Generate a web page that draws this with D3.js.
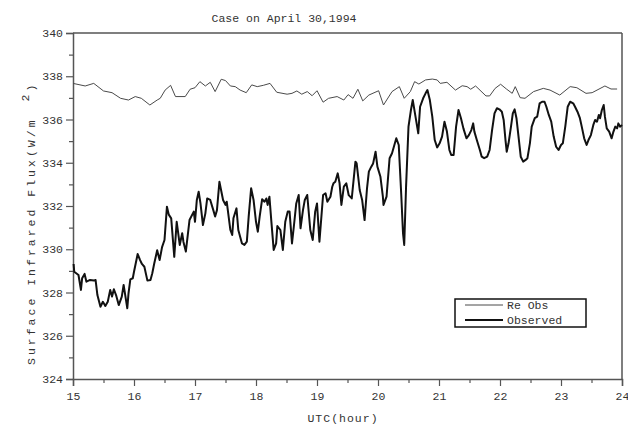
<!DOCTYPE html>
<html>
<head>
<meta charset="utf-8">
<script src="https://cdn.jsdelivr.net/npm/d3@7/dist/d3.min.js"></script>
<style>
  html, body { margin: 0; padding: 0; background: #fff; }
  svg { display: block; }
  text { font-family: "Liberation Mono", "DejaVu Sans Mono", monospace; fill: #333; }
</style>
</head>
<body>
<svg id="chart" width="628" height="425"></svg>
<script>
// Surface infrared flux, UTC hour vs W/m^2
const title = "Case on April 30,1994";
const xLabel = "UTC(hour)";
const yLabelMain = "Surface Infrared Flux(W/m";
const yLabelSup = "2";
const yLabelEnd = ")";
const seriesNames = ["Re Obs", "Observed"];

const xTicks = [15, 16, 17, 18, 19, 20, 21, 22, 23, 24];
const yTicks = [324, 326, 328, 330, 332, 334, 336, 338, 340];

// Re Obs: hour, flux
const reObsHour = [15.00,15.20,15.34,15.50,15.64,15.78,15.91,16.02,16.12,16.26,16.38,16.43,16.51,16.60,16.68,16.84,16.92,17.00,17.08,17.17,17.25,17.33,17.43,17.50,17.58,17.66,17.74,17.84,17.93,18.02,18.12,18.23,18.34,18.51,18.59,18.67,18.75,18.84,18.92,19.00,19.10,19.19,19.33,19.44,19.51,19.59,19.67,19.75,19.85,20.01,20.09,20.23,20.35,20.43,20.53,20.60,20.67,20.78,20.89,20.97,21.02,21.13,21.27,21.38,21.46,21.52,21.60,21.77,21.83,21.92,22.01,22.11,22.20,22.25,22.33,22.41,22.55,22.71,22.82,22.98,23.15,23.26,23.41,23.51,23.72,23.82,23.92];
const reObsFlux = [337.67,337.55,337.67,337.32,337.24,336.98,336.90,337.06,336.98,336.67,336.90,336.98,337.36,337.58,337.06,337.06,337.40,337.47,337.75,337.55,337.72,337.29,337.86,337.80,337.55,337.52,337.36,337.24,337.60,337.52,337.58,337.67,337.26,337.17,337.21,337.32,337.17,337.29,337.10,337.33,336.80,336.98,337.06,336.90,337.15,336.98,337.40,336.86,337.13,337.33,336.67,337.29,337.52,336.98,337.29,337.75,337.64,337.83,337.87,337.83,337.67,337.72,337.36,337.56,337.52,337.40,337.55,337.09,337.09,337.44,337.63,337.40,337.21,337.52,337.01,336.98,337.29,337.44,337.36,337.13,337.52,337.47,337.21,337.24,337.55,337.41,337.41];

// Observed: hour, flux
const obsHour = [15.01,15.02,15.09,15.13,15.15,15.19,15.22,15.28,15.34,15.37,15.40,15.45,15.49,15.53,15.57,15.61,15.64,15.67,15.71,15.75,15.80,15.83,15.86,15.89,15.91,15.94,15.98,16.00,16.06,16.10,16.13,16.17,16.22,16.27,16.30,16.33,16.38,16.42,16.46,16.50,16.54,16.57,16.61,16.66,16.70,16.75,16.79,16.81,16.85,16.91,16.98,17.00,17.03,17.06,17.09,17.13,17.17,17.20,17.25,17.30,17.33,17.36,17.40,17.46,17.50,17.52,17.58,17.61,17.63,17.68,17.71,17.77,17.81,17.85,17.88,17.92,17.96,18.00,18.03,18.06,18.10,18.14,18.17,18.19,18.22,18.25,18.29,18.33,18.35,18.40,18.44,18.48,18.52,18.55,18.59,18.62,18.66,18.70,18.73,18.77,18.80,18.84,18.89,18.93,18.97,19.00,19.04,19.10,19.14,19.17,19.22,19.25,19.27,19.30,19.34,19.37,19.40,19.44,19.48,19.52,19.57,19.63,19.65,19.70,19.74,19.78,19.82,19.85,19.89,19.92,19.96,19.99,20.04,20.08,20.09,20.14,20.19,20.23,20.30,20.34,20.38,20.41,20.43,20.46,20.50,20.54,20.57,20.61,20.66,20.69,20.74,20.78,20.81,20.85,20.89,20.93,20.97,21.01,21.05,21.09,21.13,21.17,21.20,21.24,21.28,21.32,21.36,21.40,21.45,21.49,21.53,21.56,21.58,21.62,21.67,21.70,21.74,21.79,21.83,21.87,21.91,21.95,21.99,22.03,22.06,22.09,22.11,22.14,22.18,22.21,22.24,22.27,22.31,22.34,22.38,22.42,22.45,22.49,22.52,22.57,22.61,22.65,22.69,22.73,22.76,22.80,22.84,22.88,22.92,22.96,23.00,23.03,23.07,23.11,23.15,23.20,23.23,23.27,23.31,23.34,23.38,23.42,23.45,23.49,23.53,23.56,23.59,23.62,23.64,23.67,23.70,23.72,23.75,23.79,23.83,23.86,23.89,23.92,23.94,23.97,24.00];
const obsFlux = [329.32,328.96,328.81,328.12,328.66,328.86,328.50,328.58,328.55,328.58,327.88,327.34,327.57,327.38,327.57,328.12,327.81,328.15,327.84,327.42,327.81,328.35,327.81,327.27,327.96,328.61,328.66,328.96,329.78,329.50,329.32,329.19,328.55,328.58,328.89,329.32,329.95,329.50,330.10,330.43,331.97,331.60,331.43,329.65,331.27,330.20,330.74,330.35,329.89,331.35,331.74,331.27,332.28,332.66,332.12,331.12,331.66,332.35,332.28,331.81,331.51,331.81,333.12,332.28,332.05,332.20,330.89,330.66,331.43,331.89,330.89,330.27,330.20,330.35,331.51,332.82,332.28,331.27,330.81,331.51,332.31,332.20,332.35,332.05,332.43,331.35,329.97,330.27,331.07,330.89,329.97,331.27,331.74,331.74,330.27,331.04,332.12,332.51,330.97,331.81,332.28,332.51,330.89,330.43,331.74,332.12,330.35,332.51,332.59,332.20,332.43,332.89,333.05,333.12,333.51,333.05,332.05,332.90,333.05,332.50,332.35,334.05,333.97,332.74,332.28,331.35,332.82,333.59,333.82,333.97,334.51,333.82,333.35,332.43,332.05,332.43,334.21,334.44,335.13,334.82,332.59,330.74,330.20,332.89,335.67,336.44,336.90,336.21,335.36,336.59,336.98,337.21,337.36,336.90,336.13,335.05,334.71,334.90,335.21,335.90,335.44,334.59,334.36,334.36,335.67,336.44,336.06,335.59,335.13,335.28,335.51,335.82,335.44,335.05,334.59,334.28,334.21,334.28,334.59,335.51,336.28,336.52,336.47,336.36,335.98,335.05,334.51,334.90,335.67,336.28,336.47,336.06,335.05,334.28,334.05,334.13,334.21,334.90,335.67,336.06,336.13,336.75,336.82,336.82,336.59,336.21,335.90,335.21,334.74,334.59,334.82,334.90,335.67,336.59,336.82,336.75,336.59,336.36,336.06,335.67,335.13,334.82,335.05,335.28,335.75,335.98,335.90,336.21,336.06,336.44,336.67,336.13,335.59,335.44,335.13,335.44,335.67,335.59,335.82,335.67,335.75];

const svg = d3.select("#chart");
const margin = { left: 73, right: 6, top: 33, bottom: 46 };
const W = 628, H = 425;

const x = d3.scaleLinear().domain([15, 24]).range([margin.left, W - margin.right]);
const y = d3.scaleLinear().domain([324, 340]).range([H - margin.bottom, margin.top]);

const axisColor = "#555";

// plot frame: top and right edges
svg.append("line")
  .attr("x1", x(15)).attr("x2", x(24)).attr("y1", y(340)).attr("y2", y(340))
  .attr("stroke", axisColor).attr("stroke-width", 1.5);
svg.append("line")
  .attr("x1", x(24)).attr("x2", x(24)).attr("y1", y(340)).attr("y2", y(324))
  .attr("stroke", axisColor).attr("stroke-width", 1.5);

// y axis: major ticks with labels, minor ticks between
const yAxis = svg.append("g").attr("transform", `translate(${x(15)},0)`)
  .call(d3.axisLeft(y).tickValues(yTicks).tickSize(7).tickPadding(3).tickFormat(d3.format("d")));
const yMinor = svg.append("g").attr("transform", `translate(${x(15)},0)`)
  .call(d3.axisLeft(y).tickValues(d3.range(325, 340, 2)).tickSize(4).tickFormat(""));

// x axis
const xAxis = svg.append("g").attr("transform", `translate(0,${y(324)})`)
  .call(d3.axisBottom(x).tickValues(xTicks).tickSize(7).tickPadding(6).tickFormat(d3.format("d")));
const xMinor = svg.append("g").attr("transform", `translate(0,${y(324)})`)
  .call(d3.axisBottom(x).tickValues(d3.range(15.5, 24, 1)).tickSize(4).tickFormat(""));

[yAxis, yMinor, xAxis, xMinor].forEach(g => {
  g.select(".domain").attr("stroke", axisColor).attr("stroke-width", 1.5);
  g.selectAll(".tick line").attr("stroke", axisColor).attr("stroke-width", 1.2);
  g.selectAll(".tick text")
    .style("font-family", '"Liberation Mono", monospace')
    .style("font-size", "11.5px").attr("fill", "#333");
});
yMinor.select(".domain").remove();
xMinor.select(".domain").remove();

// series lines
const line = d3.line().x(d => x(d[0])).y(d => y(d[1]));
const reObs = reObsHour.map((h, i) => [h, reObsFlux[i]]);
const obs = obsHour.map((h, i) => [h, obsFlux[i]]);

svg.append("path").datum(reObs)
  .attr("d", line).attr("fill", "none")
  .attr("stroke", "#4a4a4a").attr("stroke-width", 1).attr("stroke-linejoin", "round");
svg.append("path").datum(obs)
  .attr("d", line).attr("fill", "none")
  .attr("stroke", "#111").attr("stroke-width", 2).attr("stroke-linejoin", "round");

// title
svg.append("text")
  .attr("x", 284).attr("y", 22)
  .attr("text-anchor", "middle")
  .style("font-size", "11.5px")
  .text(title);

// x label
svg.append("text").attr("x", 343).attr("y", 422)
  .attr("text-anchor", "middle").style("font-size", "11.5px")
  .style("letter-spacing", "1px")
  .text(xLabel);

// y label with superscript
const yl = svg.append("text")
  .attr("transform", "translate(35,365) rotate(-90)")
  .style("font-size", "11.5px")
  .style("letter-spacing", "3px");
yl.append("tspan").text(yLabelMain);
yl.append("tspan").attr("dx", 16).attr("dy", -6).text(yLabelSup);
yl.append("tspan").attr("dy", 6).text(yLabelEnd);

// legend
const lg = svg.append("g");
lg.append("rect").attr("x", 455).attr("y", 299).attr("width", 131).attr("height", 28)
  .attr("fill", "#fff").attr("stroke", "#111").attr("stroke-width", 1.5);
lg.append("line").attr("x1", 465).attr("x2", 503).attr("y1", 305).attr("y2", 305)
  .attr("stroke", "#4a4a4a").attr("stroke-width", 1);
lg.append("line").attr("x1", 465).attr("x2", 503).attr("y1", 320).attr("y2", 320)
  .attr("stroke", "#111").attr("stroke-width", 2);
lg.append("text").attr("x", 507).attr("y", 309).style("font-size", "11.5px").text(seriesNames[0]);
lg.append("text").attr("x", 507).attr("y", 324).style("font-size", "11.5px").text(seriesNames[1]);
</script>
</body>
</html>
